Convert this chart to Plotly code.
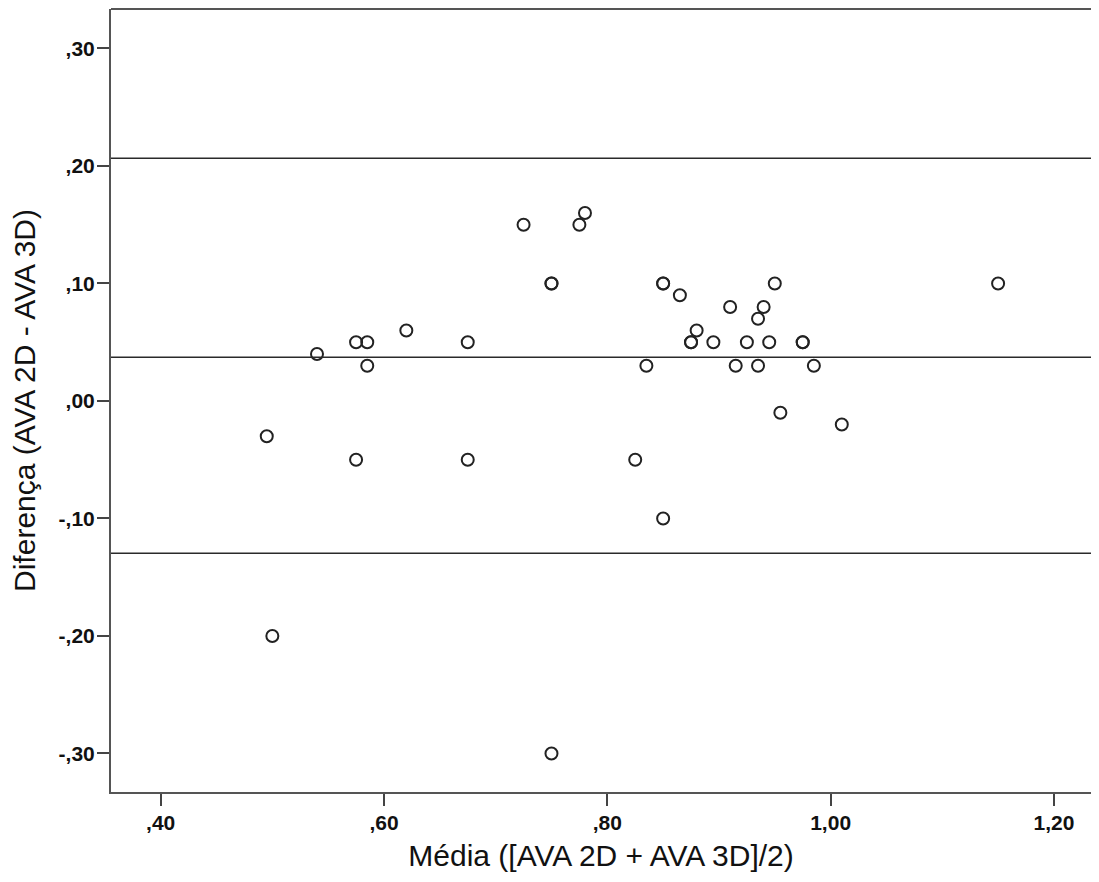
import plotly.graph_objects as go

# Bland-Altman data: mean of the two methods (x) and difference (y)
media = [0.495, 0.50, 0.54, 0.575, 0.575, 0.585, 0.585, 0.62, 0.675, 0.675,
         0.725, 0.75, 0.75, 0.775, 0.78, 0.75, 0.825, 0.835, 0.85, 0.85,
         0.85, 0.865, 0.875, 0.875, 0.88, 0.895, 0.91, 0.915, 0.925, 0.935,
         0.935, 0.94, 0.945, 0.95, 0.955, 0.975, 0.975, 0.985, 1.01, 1.15]
diferenca = [-0.03, -0.20, 0.04, 0.05, -0.05, 0.05, 0.03, 0.06, 0.05, -0.05,
             0.15, 0.10, 0.10, 0.15, 0.16, -0.30, -0.05, 0.03, 0.10, 0.10,
             -0.10, 0.09, 0.05, 0.05, 0.06, 0.05, 0.08, 0.03, 0.05, 0.07,
             0.03, 0.08, 0.05, 0.10, -0.01, 0.05, 0.05, 0.03, -0.02, 0.10]

# Reference lines: upper limit, mean difference, lower limit
ref_lines = [0.2066, 0.0372, -0.1296]

x_tickvals = [0.40, 0.60, 0.80, 1.00, 1.20]
x_ticktext = [",40", ",60", ",80", "1,00", "1,20"]
y_tickvals = [0.30, 0.20, 0.10, 0.00, -0.10, -0.20, -0.30]
y_ticktext = [",30", ",20", ",10", ",00", "-,10", "-,20", "-,30"]

fig = go.Figure()
fig.add_trace(go.Scatter(
    x=media, y=diferenca, mode="markers",
    marker=dict(symbol="circle-open", size=12, color="#222222",
                line=dict(width=2, color="#222222")),
    showlegend=False, hoverinfo="x+y"))

for v in ref_lines:
    fig.add_hline(y=v, line=dict(color="#2a2a2a", width=1.6))

# top frame line (plot area is open on the right)
fig.add_shape(type="line", xref="paper", yref="paper", x0=0, x1=1, y0=1, y1=1,
              line=dict(color="#555555", width=2))

tickfont = dict(family="Liberation Sans, Arial, sans-serif", size=21,
                color="#111111", weight="bold")
titlefont = dict(family="Liberation Sans, Arial, sans-serif", size=30, color="#111111")

fig.update_layout(
    width=1083, height=866,
    margin=dict(l=103, r=0, t=1, b=82),
    paper_bgcolor="white", plot_bgcolor="white",
    font=dict(family="Liberation Sans, Arial, sans-serif"),
    xaxis=dict(range=[0.3555, 1.2332], tickvals=x_tickvals, ticktext=x_ticktext,
               showgrid=False, zeroline=False, showline=True, linecolor="#555555",
               linewidth=2, mirror=False, ticks="outside", ticklen=12, tickwidth=2,
               tickcolor="#444444", ticklabelstandoff=-1,
               tickfont=tickfont,
               title=dict(text="Média ([AVA 2D + AVA 3D]/2)", font=titlefont, standoff=12)),
    yaxis=dict(range=[-0.3328, 0.3336], tickvals=y_tickvals, ticktext=y_ticktext,
               showgrid=False, zeroline=False, showline=True, linecolor="#555555",
               linewidth=2, mirror=False, ticks="outside", ticklen=12, tickwidth=2,
               tickcolor="#444444", ticklabelstandoff=-2,
               tickfont=tickfont,
               title=dict(text="Diferença (AVA 2D - AVA 3D)", font=titlefont, standoff=16)),
)

fig.write_html("out.html")
